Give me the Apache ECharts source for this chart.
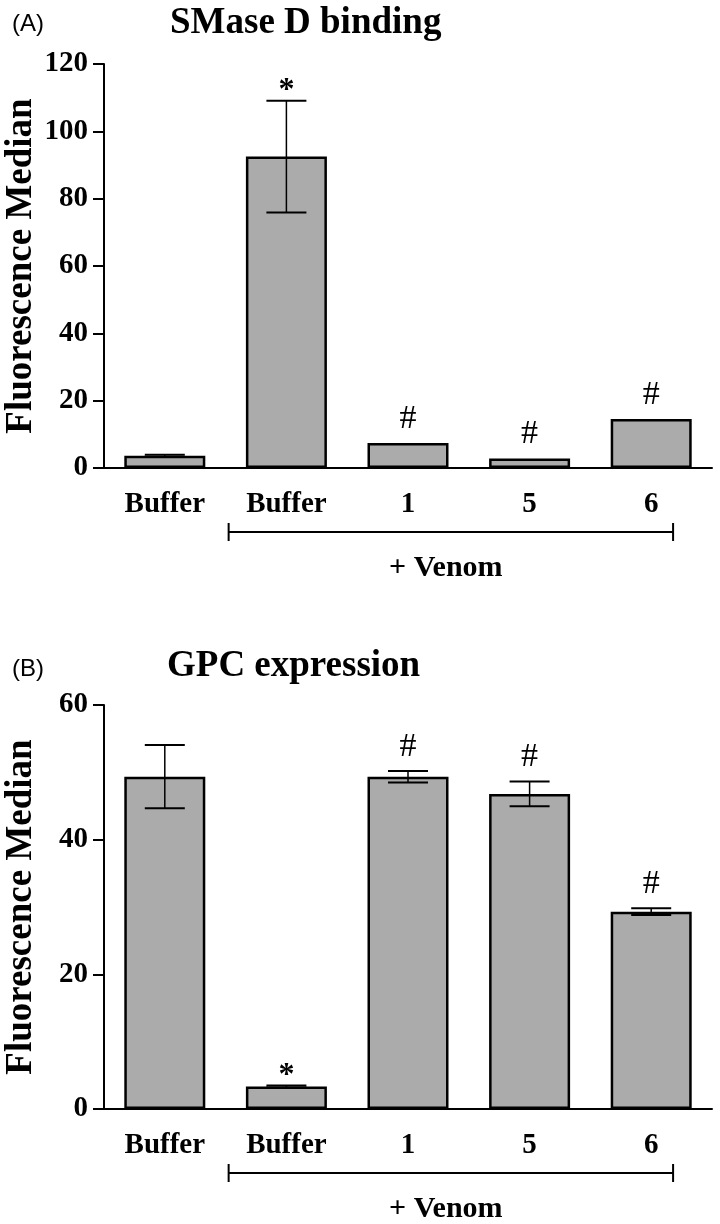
<!DOCTYPE html>
<html>
<head>
<meta charset="utf-8">
<script src="https://cdn.jsdelivr.net/npm/echarts@6/dist/echarts.min.js"></script>
<style>
html,body{margin:0;padding:0;background:#fff;}
#chart{width:720px;height:1224px;}
</style>
</head>
<body>
<div id="chart"></div>
<script>
// ---- data ----
const categories = ['Buffer', 'Buffer', '1', '5', '6'];
const venomGroupStart = 1;
const venomGroupEnd = 4;
const venomLabel = '+ Venom';
const axisTitle = 'Fluorescence Median';

const titleA = 'SMase D binding';
const panelA = '(A)';
const smaseMean = [3.65, 92.5, 7.4, 2.85, 14.55];
const smaseErr = [0.3, 16.6, 0, 0, 0];
const smaseMarks = ['', '*', '#', '#', '#'];
const smaseTicks = { min: 0, max: 120, interval: 20 };

const titleB = 'GPC expression';
const panelB = '(B)';
const gpcMean = [49.35, 3.35, 49.35, 46.8, 29.3];
const gpcErr = [4.7, 0.15, 0.85, 1.85, 0.5];
const gpcMarks = ['', '*', '#', '#', '#'];
const gpcTicks = { min: 0, max: 60, interval: 20 };

// ---- styles ----
const SERIF = '"Liberation Serif", "Times New Roman", serif';
const SANS = '"Liberation Sans", Arial, sans-serif';
const BAR_FILL = '#ababab';

const chart = echarts.init(document.getElementById('chart'), null, { renderer: 'canvas' });

function xAxisFor(g) {
  return {
    gridIndex: g, type: 'category', data: categories,
    axisLine: { lineStyle: { color: '#000', width: 2 } },
    axisTick: { alignWithLabel: true, length: 11, lineStyle: { color: '#000', width: 2 } },
    axisLabel: { color: '#000', fontFamily: SERIF, fontWeight: 'bold', fontSize: 29, margin: 22 }
  };
}
function yAxisFor(g, t) {
  return {
    gridIndex: g, type: 'value', min: t.min, max: t.max, interval: t.interval,
    axisLine: { show: true, lineStyle: { color: '#000', width: 2 } },
    axisTick: { show: true, length: 11, lineStyle: { color: '#000', width: 2 } },
    splitLine: { show: false },
    axisLabel: { color: '#000', fontFamily: SERIF, fontWeight: 'bold', fontSize: 29, margin: 16 },
    name: axisTitle, nameLocation: 'middle', nameGap: 64, nameMoveOverlap: false,
    nameTextStyle: { color: '#000', fontFamily: SERIF, fontWeight: 'bold', fontSize: 37 }
  };
}

function errRender(params, api) {
  const i = api.value(0), m = api.value(1), e = api.value(2);
  if (!e) return null;
  const top = api.coord([i, m + e]);
  const bot = api.coord([i, m - e]);
  const hw = 20;
  const st = { stroke: '#000', lineWidth: 2 };
  return {
    type: 'group',
    children: [
      { type: 'line', shape: { x1: top[0], y1: top[1], x2: bot[0], y2: bot[1] }, style: { stroke: '#000', lineWidth: 1.5 } },
      { type: 'line', shape: { x1: top[0] - hw, y1: top[1], x2: top[0] + hw, y2: top[1] }, style: st },
      { type: 'line', shape: { x1: bot[0] - hw, y1: bot[1], x2: bot[0] + hw, y2: bot[1] }, style: st }
    ]
  };
}

function markRender(marks) {
  return function (params, api) {
    const mk = marks[params.dataIndex];
    if (!mk) return null;
    const i = api.value(0), hi = api.value(1) + api.value(2);
    const p = api.coord([i, hi]);
    const isStar = mk === '*';
    return {
      type: 'text',
      style: {
        text: mk, x: p[0], y: p[1] - (isStar ? 10 : 24),
        align: 'center', verticalAlign: 'middle',
        fill: '#000', font: (isStar ? 'bold 32px ' : '34px ') + SERIF
      }
    };
  };
}

function bracketRender(params, api) {
  const a = api.coord([venomGroupStart, 0]);
  const b = api.coord([venomGroupEnd, 0]);
  const band = api.size([1, 0])[0];
  const left = a[0] - 0.475 * band;
  const right = b[0] + 0.18 * band;
  const y = a[1] + 64;
  const st = { stroke: '#000', lineWidth: 2 };
  return {
    type: 'group',
    children: [
      { type: 'line', shape: { x1: left, y1: y, x2: right, y2: y }, style: st },
      { type: 'line', shape: { x1: left, y1: y - 9, x2: left, y2: y + 9 }, style: st },
      { type: 'line', shape: { x1: right, y1: y - 9, x2: right, y2: y + 9 }, style: st },
      { type: 'text', style: { text: venomLabel, x: (left + right) / 2 - 5, y: a[1] + 100, align: 'center', verticalAlign: 'middle', fill: '#000', font: 'bold 30px ' + SERIF } }
    ]
  };
}

function seriesFor(g, mean, err, marks) {
  const pts = mean.map((m, i) => [i, m, err[i]]);
  return [
    {
      type: 'bar', xAxisIndex: g, yAxisIndex: g, data: mean, barWidth: 81,
      itemStyle: { color: BAR_FILL, borderColor: '#000', borderWidth: 2.5 },
      silent: true
    },
    { type: 'custom', xAxisIndex: g, yAxisIndex: g, data: pts, renderItem: errRender, clip: false, silent: true, z: 5 },
    { type: 'custom', xAxisIndex: g, yAxisIndex: g, data: pts, renderItem: markRender(marks), clip: false, silent: true, z: 5 },
    { type: 'custom', xAxisIndex: g, yAxisIndex: g, data: [[0, 0]], renderItem: bracketRender, clip: false, silent: true, z: 5 }
  ];
}

const option = {
  backgroundColor: '#fff',
  animation: false,
  title: [
    { text: panelA, left: 7, top: 7, textStyle: { fontFamily: SANS, fontWeight: 'normal', fontSize: 24, color: '#000' } },
    { text: titleA, left: 165, top: 0, textStyle: { fontFamily: SERIF, fontWeight: 'bold', fontSize: 37, color: '#000' } },
    { text: panelB, left: 7, top: 652, textStyle: { fontFamily: SANS, fontWeight: 'normal', fontSize: 24, color: '#000' } },
    { text: titleB, left: 162, top: 643, textStyle: { fontFamily: SERIF, fontWeight: 'bold', fontSize: 37, color: '#000' } }
  ],
  grid: [
    { left: 104, right: 8, top: 64, height: 404, containLabel: false, outerBoundsMode: 'none' },
    { left: 104, right: 8, top: 705, height: 404, containLabel: false, outerBoundsMode: 'none' }
  ],
  xAxis: [xAxisFor(0), xAxisFor(1)],
  yAxis: [yAxisFor(0, smaseTicks), yAxisFor(1, gpcTicks)],
  series: [].concat(seriesFor(0, smaseMean, smaseErr, smaseMarks), seriesFor(1, gpcMean, gpcErr, gpcMarks))
};
chart.setOption(option);
</script>
</body>
</html>
